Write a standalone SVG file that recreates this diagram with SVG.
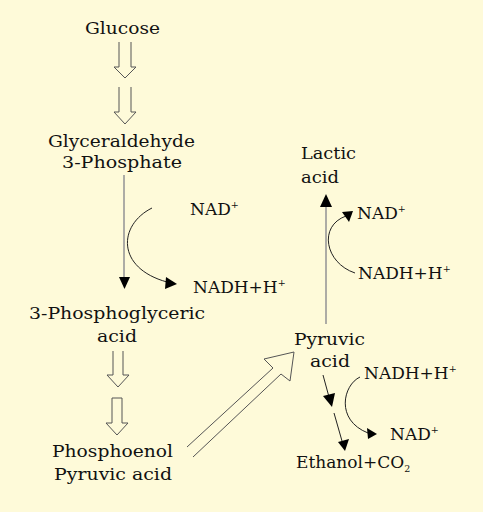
<svg xmlns="http://www.w3.org/2000/svg" width="486" height="515" viewBox="0 0 486 515">
<style>
text{font-family:"DejaVu Serif","Liberation Serif",serif;font-size:17px;fill:#111}
.c{text-anchor:middle}
.sup{font-size:9.5px}
.hol{fill:none;stroke:#555;stroke-width:1}
.shaft{stroke:#999;stroke-width:1.6;fill:none}
.thin{stroke:#222;stroke-width:1;fill:none}
.head{fill:#000;stroke:none}
</style>
<rect x="0" y="0" width="486" height="515" fill="#fff"/>
<rect x="0" y="0" width="483" height="512" fill="#FEFAD9"/>
<g id="glucose"><text class="c" x="122.5" y="34" textLength="75" lengthAdjust="spacingAndGlyphs">Glucose</text></g>
<g id="g3p"><text class="c" x="121.5" y="147" textLength="147" lengthAdjust="spacingAndGlyphs">Glyceraldehyde</text><text class="c" x="122" y="168" textLength="120" lengthAdjust="spacingAndGlyphs">3-Phosphate</text></g>
<g id="pga"><text class="c" x="117" y="319" textLength="176" lengthAdjust="spacingAndGlyphs">3-Phosphoglyceric</text><text class="c" x="117" y="342" textLength="40" lengthAdjust="spacingAndGlyphs">acid</text></g>
<g id="pep"><text class="c" x="112.5" y="457" textLength="121" lengthAdjust="spacingAndGlyphs">Phosphoenol</text><text class="c" x="113" y="480" textLength="118" lengthAdjust="spacingAndGlyphs">Pyruvic acid</text></g>
<g id="nad1"><text x="190" y="215">NAD<tspan class="sup" dy="-7">+</tspan></text></g>
<g id="nadh1"><text x="193" y="293">NADH+H<tspan class="sup" dy="-7">+</tspan></text></g>
<g id="lactic"><text x="301" y="159" textLength="55" lengthAdjust="spacingAndGlyphs">Lactic</text><text x="301" y="183" textLength="38" lengthAdjust="spacingAndGlyphs">acid</text></g>
<g id="nad2"><text x="357" y="219">NAD<tspan class="sup" dy="-7">+</tspan></text></g>
<g id="nadh2"><text x="358" y="279">NADH+H<tspan class="sup" dy="-7">+</tspan></text></g>
<g id="pyruvic"><text x="294" y="345" textLength="71" lengthAdjust="spacingAndGlyphs">Pyruvic</text><text x="310" y="367" textLength="40" lengthAdjust="spacingAndGlyphs">acid</text></g>
<g id="nadh3"><text x="364" y="379">NADH+H<tspan class="sup" dy="-7">+</tspan></text></g>
<g id="nad3"><text x="390" y="440">NAD<tspan class="sup" dy="-7">+</tspan></text></g>
<g id="ethanol"><text x="296" y="468">Ethanol+CO<tspan class="sup" dy="4">2</tspan></text></g>
<g id="connectors">
<path class="hol" d="M119,42 V67 H114 L125,78 L136,67 H131 V42"/>
<path class="hol" d="M119,87 V112 H114 L125,124 L136,112 H131 V87"/>
<path class="hol" d="M113,351 V375 H107 L118,387 L129,375 H123 V351"/>
<path class="hol" d="M112,398 V423 H106 L117,435 L128,423 H122 V398 Z"/>
<path class="hol" d="M187,447 L273,368 L264,359 L294,352 L290,381 L281,374 L193,457"/>
<line class="shaft" x1="124" y1="175" x2="124" y2="278"/>
<polygon class="head" points="119,277 130,277 124.5,289"/>
<path class="thin" d="M152,208 C118,225 116,268 167,282"/>
<polygon class="head" points="177,284 166,277 165,289"/>
<line class="shaft" x1="326" y1="206" x2="326" y2="324"/>
<polygon class="head" points="326,194 320,207 332,207"/>
<path class="thin" d="M355,273 C325,263 318,226 346,216"/>
<polygon class="head" points="353,211 342,212 349,222"/>
<line class="thin" x1="323" y1="375" x2="329" y2="397"/>
<polygon class="head" points="323,396 335,393 332,407"/>
<line class="thin" x1="334" y1="413" x2="342" y2="441"/>
<polygon class="head" points="338,442 349,439 345,451"/>
<path class="thin" d="M360,377 C343,385 335,420 368,433"/>
<polygon class="head" points="377,434 367,428 368,439"/>
</g>
</svg>
